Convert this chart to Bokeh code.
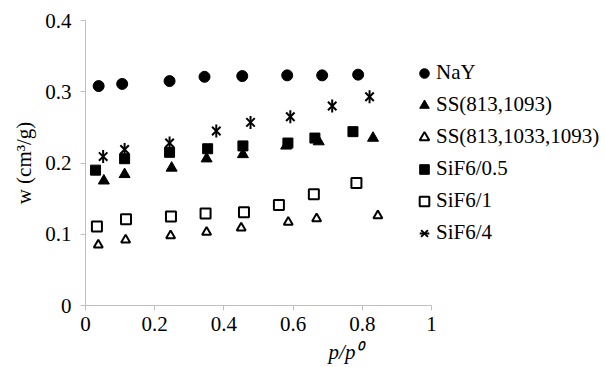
import math
from bokeh.plotting import figure
from bokeh.models import Range1d, FixedTicker, Legend, LegendItem, CustomJSTickFormatter
from bokeh.embed import file_html
from bokeh.resources import INLINE

# ---- data ----
nay_x = [0.038, 0.106, 0.243, 0.344, 0.453, 0.583, 0.684, 0.788]
nay_y = [0.308, 0.311, 0.315, 0.321, 0.322, 0.323, 0.323, 0.324]

ss1093_x = [0.053, 0.113, 0.249, 0.350, 0.455, 0.580, 0.674, 0.831]
ss1093_y = [0.175, 0.184, 0.193, 0.206, 0.212, 0.224, 0.230, 0.235]

ss1033_x = [0.037, 0.116, 0.246, 0.350, 0.450, 0.586, 0.668, 0.845]
ss1033_y = [0.085, 0.092, 0.098, 0.103, 0.109, 0.117, 0.122, 0.126]

sif05_x = [0.029, 0.113, 0.243, 0.353, 0.455, 0.585, 0.663, 0.773]
sif05_y = [0.190, 0.206, 0.215, 0.220, 0.224, 0.228, 0.235, 0.244]

sif1_x = [0.033, 0.117, 0.247, 0.347, 0.458, 0.559, 0.660, 0.783]
sif1_y = [0.111, 0.121, 0.125, 0.129, 0.131, 0.141, 0.156, 0.172]

sif4_x = [0.051, 0.113, 0.243, 0.378, 0.477, 0.592, 0.713, 0.821]
sif4_y = [0.209, 0.219, 0.228, 0.245, 0.257, 0.265, 0.280, 0.293]

series_names = ["NaY", "SS(813,1093)", "SS(813,1033,1093)", "SiF6/0.5", "SiF6/1", "SiF6/4"]

x_ticks = [0, 0.2, 0.4, 0.6, 0.8, 1.0]
x_tick_labels = ["0", "0.2", "0.4", "0.6", "0.8", "1"]
y_ticks = [0, 0.1, 0.2, 0.3, 0.4]
y_tick_labels = ["0", "0.1", "0.2", "0.3", "0.4"]

FONT = "Liberation Serif"
FS = "21px"
AXC = "#c0c0c0"

LOOKUP = ("const i = tvals.findIndex(t => Math.abs(t - tick) < 1e-9);"
          " return i >= 0 ? tlabs[i] : '';")

# frame spans the legend area too; the x axis itself is bounded to 0..1
FRAME_W = 520
AXIS_W = 346
p = figure(width=605, height=367, output_backend="svg", toolbar_location=None,
           x_range=Range1d(0, FRAME_W / AXIS_W), y_range=Range1d(0, 0.4),
           min_border_left=85, min_border_right=0, min_border_top=20, min_border_bottom=62)
p.outline_line_color = None
p.xgrid.visible = False
p.ygrid.visible = False
p.background_fill_color = "white"
p.border_fill_color = "white"

for ax, ticks, labels in ((p.xaxis[0], x_ticks, x_tick_labels), (p.yaxis[0], y_ticks, y_tick_labels)):
    ax.ticker = FixedTicker(ticks=ticks)
    ax.formatter = CustomJSTickFormatter(args=dict(tvals=ticks, tlabs=labels), code=LOOKUP)
    ax.minor_tick_line_color = None
    ax.axis_line_color = AXC
    ax.major_tick_line_color = AXC
    ax.major_tick_out = 5
    ax.major_tick_in = 0
    ax.major_label_text_font = FONT
    ax.major_label_text_font_size = FS
    ax.major_label_text_color = "black"
    ax.axis_label_text_font = FONT
    ax.axis_label_text_font_size = FS
    ax.axis_label_text_color = "black"

p.xaxis.bounds = (0, 1)
p.yaxis.major_label_standoff = 9
p.xaxis.major_label_standoff = 6
p.xaxis.axis_label = "p/p\u2070"
p.xaxis.axis_label_text_font_style = "italic"
p.xaxis.axis_label_standoff = 6
p.yaxis.axis_label = "w (cm\u00b3/g)"
p.yaxis.axis_label_text_font_style = "normal"
p.yaxis.axis_label_standoff = 6

r_nay = p.scatter(nay_x, nay_y, marker="circle", size=11, fill_color="black", line_color="black")
r_ss1 = p.scatter(ss1093_x, ss1093_y, marker="triangle", size=11, fill_color="black", line_color="black")
r_ss2 = p.scatter(ss1033_x, ss1033_y, marker="triangle", size=9, fill_color="white", line_color="black", line_width=2)
r_s05 = p.scatter(sif05_x, sif05_y, marker="square", size=10, fill_color="black", line_color="black")
r_s1 = p.scatter(sif1_x, sif1_y, marker="square", size=10, fill_color="white", line_color="black", line_width=2)
r_s4a = p.scatter(sif4_x, sif4_y, marker="x", size=12, line_color="black", line_width=2)
r_s4b = p.scatter(sif4_x, sif4_y, marker="dash", angle=math.pi / 2, size=13, line_color="black", line_width=2)

legend = Legend(items=[
    LegendItem(label=series_names[0], renderers=[r_nay]),
    LegendItem(label=series_names[1], renderers=[r_ss1]),
    LegendItem(label=series_names[2], renderers=[r_ss2]),
    LegendItem(label=series_names[3], renderers=[r_s05]),
    LegendItem(label=series_names[4], renderers=[r_s1]),
    LegendItem(label=series_names[5], renderers=[r_s4a, r_s4b]),
], location=(327, 60))
legend.border_line_color = None
legend.background_fill_alpha = 0
legend.padding = 0
legend.margin = 0
legend.spacing = 7
legend.glyph_width = 24
legend.glyph_height = 24
legend.label_height = 24
legend.label_standoff = 0
legend.label_text_font = FONT
legend.label_text_font_size = FS
legend.label_text_color = "black"
p.add_layout(legend)

open("out.html", "w").write(file_html(p, INLINE))
